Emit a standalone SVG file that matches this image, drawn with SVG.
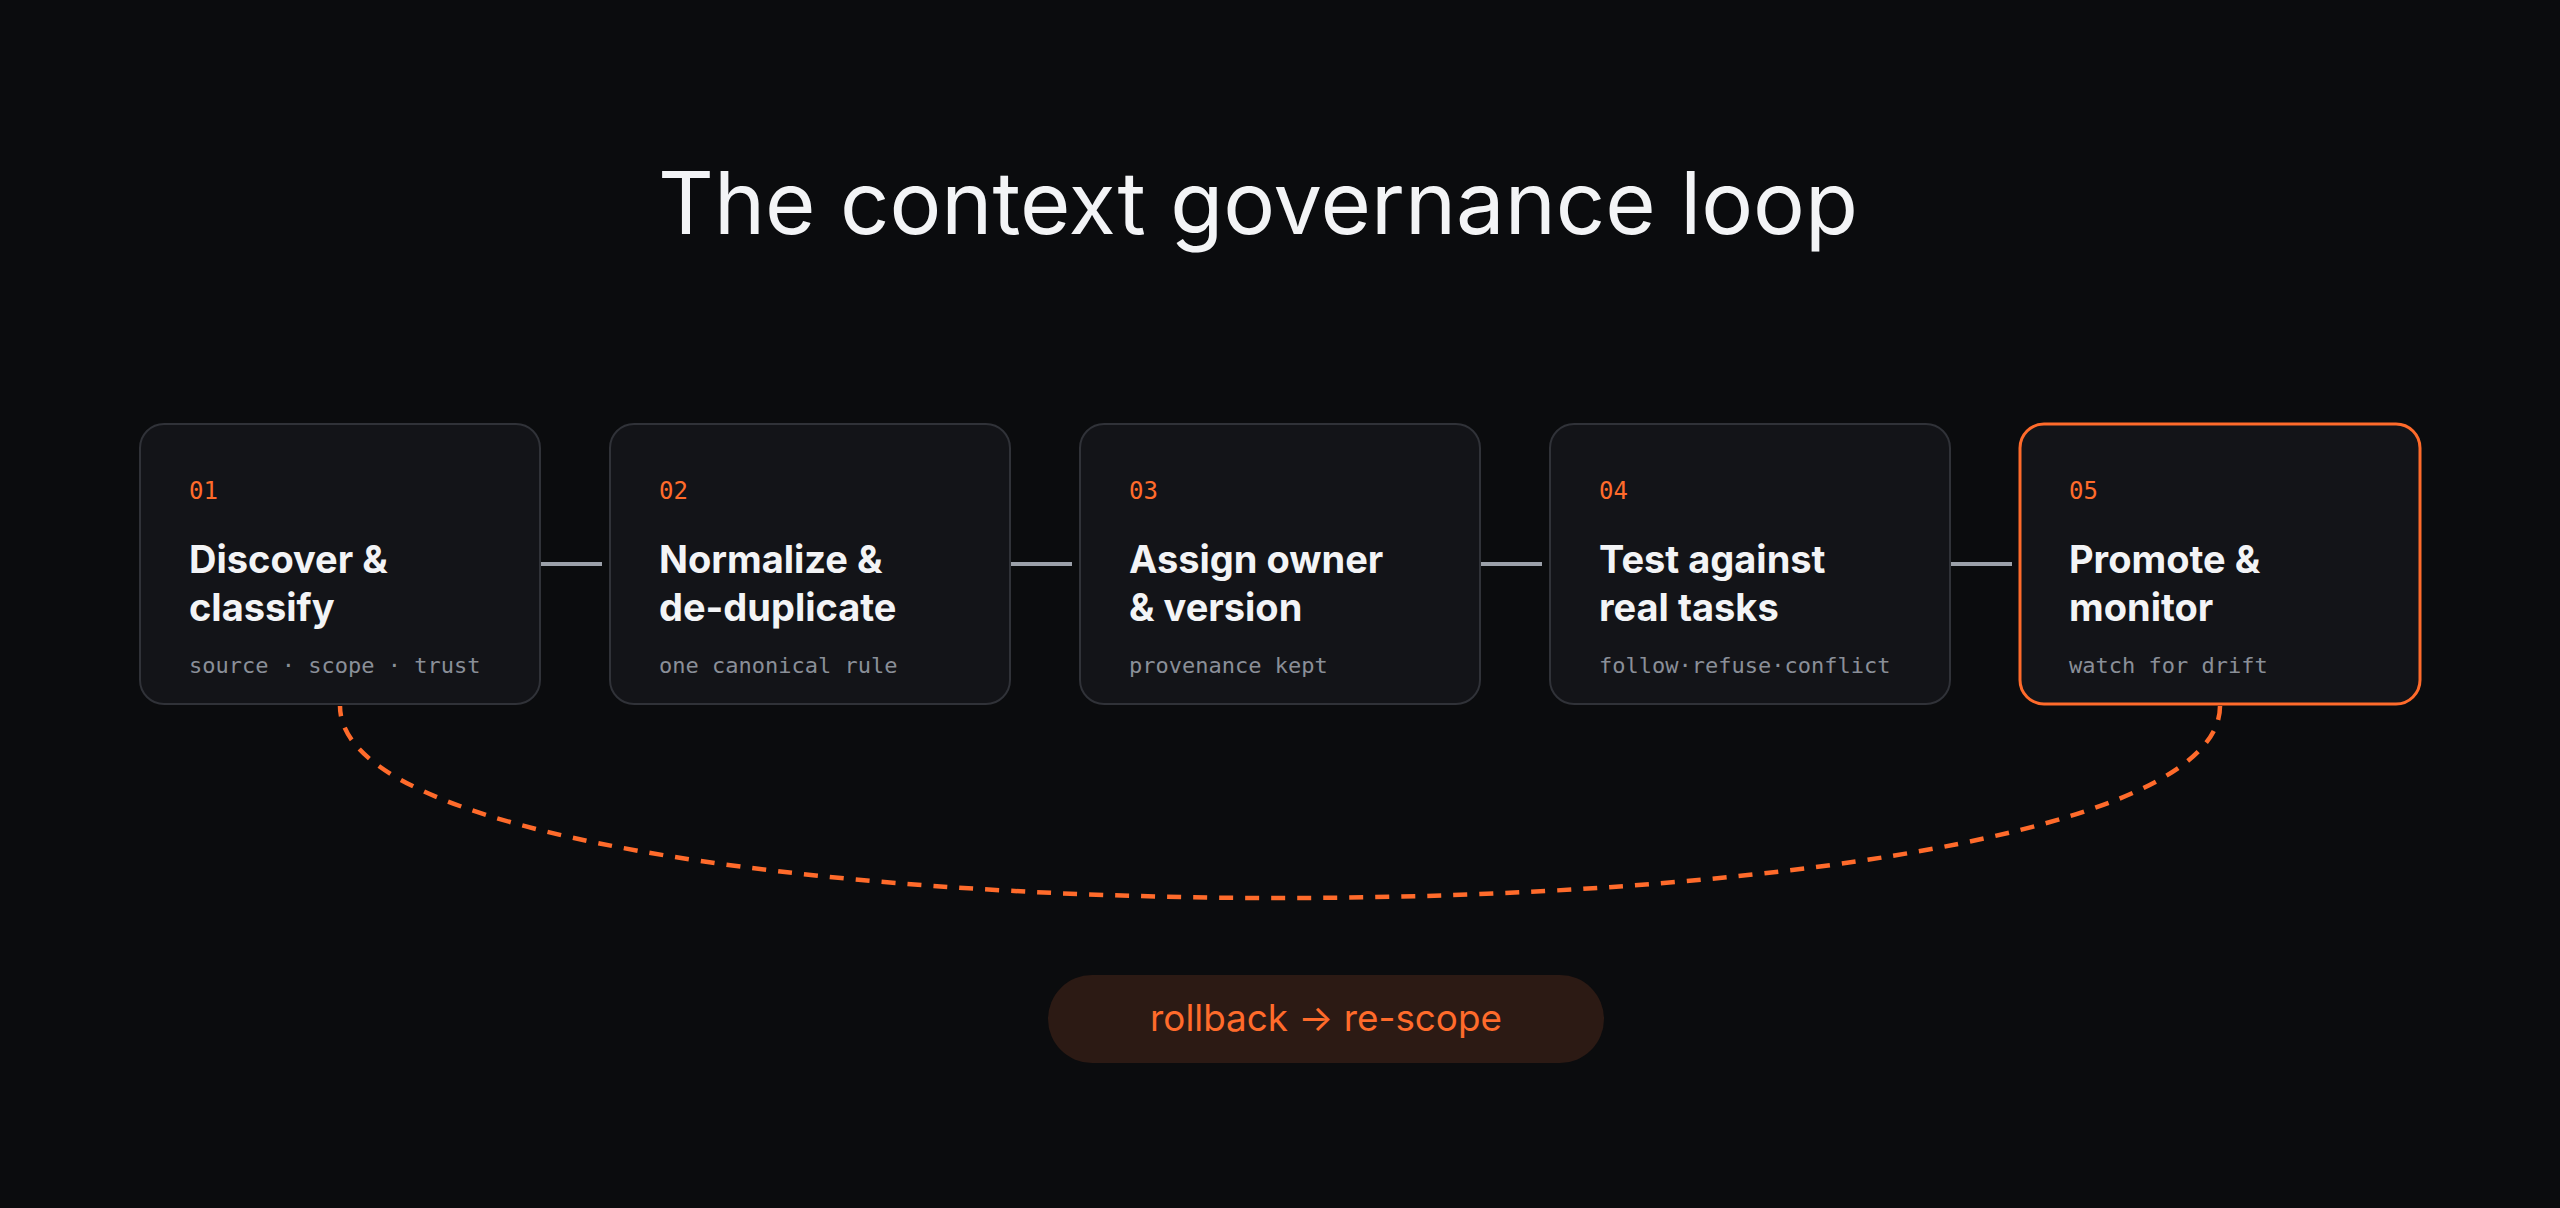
<svg xmlns="http://www.w3.org/2000/svg" width="2560" height="1208" viewBox="0 0 2560 1208">
  <style>
    .box { fill: #131418; stroke: #303238; stroke-width: 2; }
    .box.hl { stroke: #ff6b2b; stroke-width: 3; }
    .num { font-family: "DejaVu Sans Mono", "Liberation Mono", monospace; font-size: 24px; fill: #ff6b2b; }
    .ttl { font-family: Inter, "Liberation Sans", sans-serif; font-weight: 700; font-size: 38px; fill: #f3f4f6; }
    .sub { font-family: "DejaVu Sans Mono", "Liberation Mono", monospace; font-size: 22px; fill: #8a8f98; }
    .conn { stroke: #9ca1aa; stroke-width: 4; fill: none; }
    .loop { stroke: #ff6b2b; stroke-width: 4.5; fill: none; stroke-dasharray: 14 12; }
  </style>
  <rect width="2560" height="1208" fill="#0b0c0e"/>
  <text x="1258" y="234" text-anchor="middle" textLength="1200" lengthAdjust="spacingAndGlyphs" font-family="Inter, 'Liberation Sans', sans-serif" font-weight="400" font-size="86" fill="#f3f4f6">The context governance loop</text>

  <g id="connectors">
    <line class="conn" x1="540" y1="564" x2="602" y2="564"/>
    <line class="conn" x1="1010" y1="564" x2="1072" y2="564"/>
    <line class="conn" x1="1480" y1="564" x2="1542" y2="564"/>
    <line class="conn" x1="1950" y1="564" x2="2012" y2="564"/>
    <path class="loop" d="M2220,706 C2220,962 340,962 340,706"/>
  </g>

  <g id="node-01">
    <rect class="box" x="140" y="424" width="400" height="280" rx="24"/>
    <text class="num" x="189" y="499">01</text>
    <text class="ttl" x="189" y="573">Discover &amp;</text>
    <text class="ttl" x="189" y="621">classify</text>
    <text class="sub" x="189" y="673">source · scope · trust</text>
  </g>
  <g id="node-02">
    <rect class="box" x="610" y="424" width="400" height="280" rx="24"/>
    <text class="num" x="659" y="499">02</text>
    <text class="ttl" x="659" y="573">Normalize &amp;</text>
    <text class="ttl" x="659" y="621">de-duplicate</text>
    <text class="sub" x="659" y="673">one canonical rule</text>
  </g>
  <g id="node-03">
    <rect class="box" x="1080" y="424" width="400" height="280" rx="24"/>
    <text class="num" x="1129" y="499">03</text>
    <text class="ttl" x="1129" y="573">Assign owner</text>
    <text class="ttl" x="1129" y="621">&amp; version</text>
    <text class="sub" x="1129" y="673">provenance kept</text>
  </g>
  <g id="node-04">
    <rect class="box" x="1550" y="424" width="400" height="280" rx="24"/>
    <text class="num" x="1599" y="499">04</text>
    <text class="ttl" x="1599" y="573">Test against</text>
    <text class="ttl" x="1599" y="621">real tasks</text>
    <text class="sub" x="1599" y="673">follow·refuse·conflict</text>
  </g>
  <g id="node-05">
    <rect class="box hl" x="2020" y="424" width="400" height="280" rx="24"/>
    <text class="num" x="2069" y="499">05</text>
    <text class="ttl" x="2069" y="573">Promote &amp;</text>
    <text class="ttl" x="2069" y="621">monitor</text>
    <text class="sub" x="2069" y="673">watch for drift</text>
  </g>

  <g id="rollback">
    <rect x="1048" y="975" width="556" height="88" rx="44" fill="#2c1a14"/>
    <text x="1326" y="1031" text-anchor="middle" font-family="Inter, 'Liberation Sans', sans-serif" font-size="36.8" fill="#ff6b2b">rollback → re-scope</text>
  </g>
</svg>
